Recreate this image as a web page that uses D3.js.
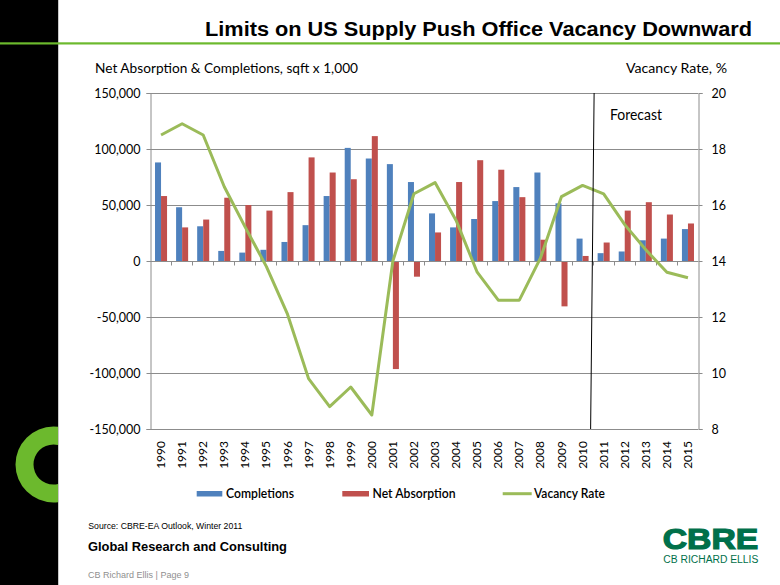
<!DOCTYPE html>
<html><head><meta charset="utf-8">
<script src="https://cdn.jsdelivr.net/npm/d3@7"></script>
<style>
html,body{margin:0;padding:0;background:#fff;}
svg{display:block;}
</style></head>
<body>
<svg id="chart" width="780" height="585"></svg>
<script>
const years = ["1990","1991","1992","1993","1994","1995","1996","1997","1998","1999","2000","2001","2002","2003","2004","2005","2006","2007","2008","2009","2010","2011","2012","2013","2014","2015"];
const completions = [88000,48000,31000,9000,7500,10000,17000,32000,58000,101000,91500,86500,70500,42500,30000,37500,53500,66000,79000,51500,20000,7000,8500,18500,20000,28500];
const netAbsorption = [58000,30000,37000,56500,50000,45000,61500,92500,79000,73000,111500,-96500,-14000,25500,70500,90000,81500,57000,19000,-40500,4500,16500,45000,52500,41500,33500];
const vacancyRate = [18.5,18.9,18.5,16.65,15.2,13.8,12.1,9.8,8.8,9.5,8.5,14.0,16.4,16.8,15.45,13.6,12.6,12.6,14.1,16.3,16.7,16.4,15.3,14.4,13.6,13.4];
const leftTicks = [-150000,-100000,-50000,0,50000,100000,150000];
const rightTicks = [8,10,12,14,16,18,20];
const seriesNames = ["Completions","Net Absorption","Vacancy Rate"];
const forecastStart = "2011";

const colors = {comp:"#4F81BD", net:"#C0504D", vac:"#9BBB59", grid:"#8c8c8c", brand:"#6cb92d", cbre:"#00704A"};
const svg = d3.select("#chart");
const chartFont = "Lato, 'Open Sans', sans-serif";
const arial = "'Liberation Sans', Arial, sans-serif";

// page decoration
svg.append("rect").attr("x",0).attr("y",0).attr("width",58).attr("height",585).attr("fill","#000");
svg.append("line").attr("x1",58.5).attr("x2",58.5).attr("y1",0).attr("y2",585).attr("stroke","#c8c8c8").attr("stroke-width",1);
svg.append("rect").attr("x",0).attr("y",42.3).attr("width",780).attr("height",2.2).attr("fill",colors.brand);
// green C logo clipped at bar edge
svg.append("defs").append("clipPath").attr("id","cclip").append("rect").attr("x",0).attr("y",400).attr("width",58).attr("height",120);
svg.append("g").attr("clip-path","url(#cclip)")
  .append("path")
  .attr("transform","translate(53.5,464.5)")
  .attr("d", d3.arc().innerRadius(20).outerRadius(38).startAngle(0).endAngle(2*Math.PI)())
  .attr("fill",colors.brand);

svg.append("text").attr("x",205).attr("y",36).attr("textLength",547).attr("lengthAdjust","spacingAndGlyphs")
  .attr("font-family",arial).attr("font-weight","bold").attr("font-size",20).attr("fill","#000")
  .text("Limits on US Supply Push Office Vacancy Downward");

// chart geometry
const L=150, R=698, T=93, B=429;
const x = d3.scaleBand().domain(years).range([L,R]).paddingInner(0).paddingOuter(0);
const xs = d3.scaleBand().domain(["c","n"]).range([0.5, x.bandwidth()+0.5]).paddingInner(0).paddingOuter(0.75);
const y = d3.scaleLinear().domain([-150000,150000]).range([B,T]);
const y2 = d3.scaleLinear().domain([8,20]).range([B,T]);
const fmt = d => d3.format(",")(d).replace("\u2212","-");

const g = svg.append("g");
// gridlines
g.selectAll("line.grid").data(leftTicks).join("line").attr("class","grid")
  .attr("x1",L).attr("x2",R).attr("y1",d=>Math.round(y(d))+0.5).attr("y2",d=>Math.round(y(d))+0.5)
  .attr("stroke",colors.grid).attr("stroke-width",1);

// bars
const bars = g.append("g");
bars.selectAll("rect.c").data(years).join("rect")
  .attr("x",(d)=>x(d)+xs("c")).attr("width",xs.bandwidth())
  .attr("y",(d,i)=>Math.min(y(completions[i]),y(0))).attr("height",(d,i)=>Math.abs(y(completions[i])-y(0)))
  .attr("fill",colors.comp);
bars.selectAll("rect.n").data(years).join("rect")
  .attr("x",(d)=>x(d)+xs("n")).attr("width",xs.bandwidth())
  .attr("y",(d,i)=>Math.min(y(netAbsorption[i]),y(0))).attr("height",(d,i)=>Math.abs(y(netAbsorption[i])-y(0)))
  .attr("fill",colors.net);

// left axis
const yAxis = d3.axisLeft(y).tickValues(leftTicks).tickFormat(fmt).tickSize(4).tickPadding(6);
const ga = svg.append("g").attr("transform",`translate(${L+0.5},0)`).call(yAxis);
ga.select(".domain").attr("stroke",colors.grid);
ga.selectAll(".tick line").attr("stroke",colors.grid);
ga.selectAll(".tick text").attr("font-family",chartFont).attr("font-size",12.5).attr("fill","#000");

// right axis
const y2Axis = d3.axisRight(y2).tickValues(rightTicks).tickFormat(d3.format("d")).tickSize(4).tickPadding(9);
const gb = svg.append("g").attr("transform",`translate(${R+0.5},0)`).call(y2Axis);
gb.select(".domain").attr("stroke",colors.grid);
gb.selectAll(".tick line").attr("stroke",colors.grid);
gb.selectAll(".tick text").attr("font-family",chartFont).attr("font-size",12.5).attr("fill","#000");

// category axis at zero with tick marks at boundaries
const zeroY = Math.round(y(0))+0.5;
svg.append("line").attr("x1",L).attr("x2",R).attr("y1",zeroY).attr("y2",zeroY).attr("stroke",colors.grid);
svg.selectAll("line.ct").data(years.slice(1)).join("line").attr("class","ct")
  .attr("x1",d=>Math.round(x(d))+0.5).attr("x2",d=>Math.round(x(d))+0.5)
  .attr("y1",zeroY).attr("y2",zeroY+4).attr("stroke",colors.grid);
// category labels at bottom
svg.selectAll("text.xl").data(years).join("text").attr("class","xl")
  .attr("transform",d=>`translate(${x(d)+x.bandwidth()/2+4.5},441) rotate(-90)`)
  .attr("text-anchor","end").attr("font-family",chartFont).attr("font-size",12).attr("fill","#000")
  .text(d=>d);

// vacancy line
const line = d3.line().x((d,i)=>x(years[i])+x.bandwidth()/2+0.5).y(d=>y2(d));
svg.append("path").datum(vacancyRate).attr("d",line).attr("fill","none")
  .attr("stroke",colors.vac).attr("stroke-width",3).attr("stroke-linejoin","round");

// forecast divider
const fx = x(forecastStart);
svg.append("line").attr("x1",fx+1.5).attr("x2",fx-2).attr("y1",T).attr("y2",B).attr("stroke","#000").attr("stroke-width",1);
svg.append("text").attr("x",610).attr("y",120).attr("textLength",52).attr("lengthAdjust","spacingAndGlyphs")
  .attr("font-family",chartFont).attr("font-size",14.5).attr("fill","#000").text("Forecast");

// axis titles
svg.append("text").attr("x",95).attr("y",72.7).attr("textLength",263).attr("lengthAdjust","spacingAndGlyphs")
  .attr("font-family",chartFont).attr("font-size",14).attr("fill","#000").text("Net Absorption & Completions, sqft x 1,000");
svg.append("text").attr("x",626).attr("y",72.7).attr("textLength",101).attr("lengthAdjust","spacingAndGlyphs")
  .attr("font-family",chartFont).attr("font-size",14).attr("fill","#000").text("Vacancy Rate, %");

// legend
const lg = svg.append("g");
const legendItems = [
  {name:seriesNames[0], type:"rect", color:colors.comp, sx:196.7, sw:25.6, tx:226, tw:68},
  {name:seriesNames[1], type:"rect", color:colors.net, sx:342.3, sw:26.7, tx:372.5, tw:83},
  {name:seriesNames[2], type:"line", color:colors.vac, sx:502.7, sw:29, tx:534, tw:71}
];
legendItems.forEach(it=>{
  if(it.type==="rect") lg.append("rect").attr("x",it.sx).attr("y",491).attr("width",it.sw).attr("height",5.5).attr("fill",it.color);
  else lg.append("line").attr("x1",it.sx).attr("x2",it.sx+it.sw).attr("y1",493.7).attr("y2",493.7).attr("stroke",it.color).attr("stroke-width",3);
  lg.append("text").attr("x",it.tx).attr("y",498).attr("textLength",it.tw).attr("lengthAdjust","spacingAndGlyphs")
    .attr("font-family",chartFont).attr("font-size",13).attr("font-weight",600).attr("fill","#000").text(it.name);
});

// footer
svg.append("text").attr("x",88.3).attr("y",529).attr("textLength",154).attr("lengthAdjust","spacingAndGlyphs")
  .attr("font-family",arial).attr("font-size",9.5).attr("fill","#000").text("Source: CBRE-EA Outlook, Winter 2011");
svg.append("text").attr("x",88).attr("y",551).attr("textLength",199).attr("lengthAdjust","spacingAndGlyphs")
  .attr("font-family",arial).attr("font-weight","bold").attr("font-size",13.5).attr("fill","#000").text("Global Research and Consulting");
svg.append("text").attr("x",88).attr("y",578.3).attr("textLength",101).attr("lengthAdjust","spacingAndGlyphs")
  .attr("font-family",arial).attr("font-size",9.5).attr("fill","#8f8f8f").text("CB Richard Ellis  |  Page 9");

// CBRE logo
svg.append("text").attr("x",662.7).attr("y",549.3).attr("textLength",95.6).attr("lengthAdjust","spacingAndGlyphs")
  .attr("font-family",arial).attr("font-weight","bold").attr("font-size",29).attr("fill",colors.cbre)
  .attr("stroke",colors.cbre).attr("stroke-width",1.2).text("CBRE");
svg.append("text").attr("x",663.3).attr("y",563.3).attr("textLength",95).attr("lengthAdjust","spacingAndGlyphs")
  .attr("font-family",arial).attr("font-size",10).attr("fill",colors.cbre).text("CB RICHARD ELLIS");
</script>
</body></html>
